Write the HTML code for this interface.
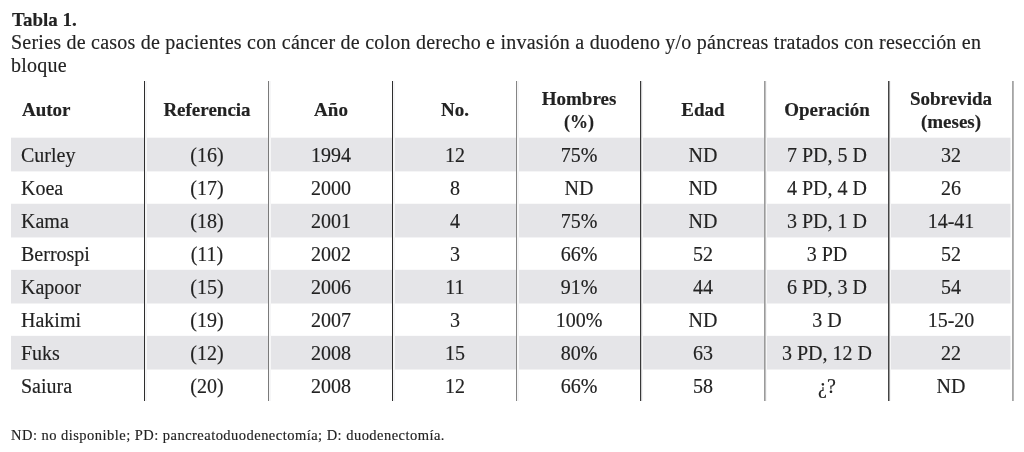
<!DOCTYPE html><html><head><meta charset="utf-8"><style>
html,body{margin:0;padding:0;background:#fff;}
body{width:1024px;height:452px;position:relative;overflow:hidden;font-family:"Liberation Serif",serif;color:#222;}
.t{position:absolute;white-space:nowrap;will-change:transform;-webkit-text-stroke:0.15px #222;}
svg{position:absolute;left:0;top:0;}
</style></head><body>
<svg width="1024" height="452" viewBox="0 0 1024 452">
<rect x="11" y="137.70" width="999.5" height="33.7" fill="#e5e5e8"/>
<rect x="11" y="203.75" width="999.5" height="33.7" fill="#e5e5e8"/>
<rect x="11" y="269.80" width="999.5" height="33.7" fill="#e5e5e8"/>
<rect x="11" y="335.85" width="999.5" height="33.7" fill="#e5e5e8"/>
<rect x="145.00" y="81" width="2" height="320" fill="#f6f6f7"/>
<rect x="269.00" y="81" width="2" height="320" fill="#f6f6f7"/>
<rect x="393.00" y="81" width="2" height="320" fill="#f6f6f7"/>
<rect x="517.00" y="81" width="2" height="320" fill="#f6f6f7"/>
<rect x="641.00" y="81" width="2" height="320" fill="#f6f6f7"/>
<rect x="765.00" y="81" width="2" height="320" fill="#f6f6f7"/>
<rect x="889.00" y="81" width="2" height="320" fill="#f6f6f7"/>
<rect x="144.00" y="81" width="1.0" height="320" fill="#2e2e2e"/>
<rect x="268.00" y="81" width="1.0" height="320" fill="#7a7a7a"/>
<rect x="392.00" y="81" width="1.0" height="320" fill="#2e2e2e"/>
<rect x="516.00" y="81" width="1.0" height="320" fill="#858585"/>
<rect x="640.00" y="81" width="1.2" height="320" fill="#383838"/>
<rect x="764.00" y="81" width="1.6" height="320" fill="#9a9a9a"/>
<rect x="888.00" y="81" width="1.5" height="320" fill="#444"/>
<rect x="1012.00" y="81" width="1.8" height="320" fill="#a5a5a5"/>
</svg>
<div class="t" style="left:11.50px;top:9.73px;width:300px;font-size:19px;line-height:19px;text-align:left;font-weight:bold;">Tabla 1.</div>
<div class="t" style="left:11.00px;top:31.90px;width:300px;font-size:20px;line-height:20px;text-align:left;letter-spacing:0.23px;">Series de casos de pacientes con cáncer de colon derecho e invasión a duodeno y/o páncreas tratados con resección en</div>
<div class="t" style="left:11.00px;top:55.10px;width:300px;font-size:20px;line-height:20px;text-align:left;letter-spacing:0.23px;">bloque</div>
<div class="t" style="left:21.50px;top:100.13px;width:300px;font-size:19px;line-height:19px;text-align:left;font-weight:bold;">Autor</div>
<div class="t" style="left:56.50px;top:100.13px;width:300px;font-size:19px;line-height:19px;text-align:center;font-weight:bold;">Referencia</div>
<div class="t" style="left:180.50px;top:100.13px;width:300px;font-size:19px;line-height:19px;text-align:center;font-weight:bold;">Año</div>
<div class="t" style="left:304.50px;top:100.13px;width:300px;font-size:19px;line-height:19px;text-align:center;font-weight:bold;">No.</div>
<div class="t" style="left:428.50px;top:89.13px;width:300px;font-size:19px;line-height:19px;text-align:center;font-weight:bold;">Hombres</div>
<div class="t" style="left:428.50px;top:113.26px;width:300px;font-size:18px;line-height:18px;text-align:center;font-weight:bold;">(%)</div>
<div class="t" style="left:552.50px;top:100.13px;width:300px;font-size:19px;line-height:19px;text-align:center;font-weight:bold;">Edad</div>
<div class="t" style="left:676.50px;top:100.13px;width:300px;font-size:19px;line-height:19px;text-align:center;font-weight:bold;">Operación</div>
<div class="t" style="left:800.50px;top:89.13px;width:300px;font-size:19px;line-height:19px;text-align:center;font-weight:bold;">Sobrevida</div>
<div class="t" style="left:800.50px;top:112.43px;width:300px;font-size:19px;line-height:19px;text-align:center;font-weight:bold;">(meses)</div>
<div class="t" style="left:21.00px;top:144.90px;width:300px;font-size:20px;line-height:20px;text-align:left;">Curley</div>
<div class="t" style="left:56.50px;top:144.90px;width:300px;font-size:20px;line-height:20px;text-align:center;">(16)</div>
<div class="t" style="left:180.50px;top:144.90px;width:300px;font-size:20px;line-height:20px;text-align:center;">1994</div>
<div class="t" style="left:304.50px;top:144.90px;width:300px;font-size:20px;line-height:20px;text-align:center;">12</div>
<div class="t" style="left:428.50px;top:144.90px;width:300px;font-size:20px;line-height:20px;text-align:center;">75%</div>
<div class="t" style="left:552.50px;top:144.90px;width:300px;font-size:20px;line-height:20px;text-align:center;">ND</div>
<div class="t" style="left:676.50px;top:144.90px;width:300px;font-size:20px;line-height:20px;text-align:center;">7 PD, 5 D</div>
<div class="t" style="left:800.50px;top:144.90px;width:300px;font-size:20px;line-height:20px;text-align:center;">32</div>
<div class="t" style="left:21.00px;top:177.90px;width:300px;font-size:20px;line-height:20px;text-align:left;">Koea</div>
<div class="t" style="left:56.50px;top:177.90px;width:300px;font-size:20px;line-height:20px;text-align:center;">(17)</div>
<div class="t" style="left:180.50px;top:177.90px;width:300px;font-size:20px;line-height:20px;text-align:center;">2000</div>
<div class="t" style="left:304.50px;top:177.90px;width:300px;font-size:20px;line-height:20px;text-align:center;">8</div>
<div class="t" style="left:428.50px;top:177.90px;width:300px;font-size:20px;line-height:20px;text-align:center;">ND</div>
<div class="t" style="left:552.50px;top:177.90px;width:300px;font-size:20px;line-height:20px;text-align:center;">ND</div>
<div class="t" style="left:676.50px;top:177.90px;width:300px;font-size:20px;line-height:20px;text-align:center;">4 PD, 4 D</div>
<div class="t" style="left:800.50px;top:177.90px;width:300px;font-size:20px;line-height:20px;text-align:center;">26</div>
<div class="t" style="left:21.00px;top:210.90px;width:300px;font-size:20px;line-height:20px;text-align:left;">Kama</div>
<div class="t" style="left:56.50px;top:210.90px;width:300px;font-size:20px;line-height:20px;text-align:center;">(18)</div>
<div class="t" style="left:180.50px;top:210.90px;width:300px;font-size:20px;line-height:20px;text-align:center;">2001</div>
<div class="t" style="left:304.50px;top:210.90px;width:300px;font-size:20px;line-height:20px;text-align:center;">4</div>
<div class="t" style="left:428.50px;top:210.90px;width:300px;font-size:20px;line-height:20px;text-align:center;">75%</div>
<div class="t" style="left:552.50px;top:210.90px;width:300px;font-size:20px;line-height:20px;text-align:center;">ND</div>
<div class="t" style="left:676.50px;top:210.90px;width:300px;font-size:20px;line-height:20px;text-align:center;">3 PD, 1 D</div>
<div class="t" style="left:800.50px;top:210.90px;width:300px;font-size:20px;line-height:20px;text-align:center;">14-41</div>
<div class="t" style="left:21.00px;top:243.90px;width:300px;font-size:20px;line-height:20px;text-align:left;">Berrospi</div>
<div class="t" style="left:56.50px;top:243.90px;width:300px;font-size:20px;line-height:20px;text-align:center;">(11)</div>
<div class="t" style="left:180.50px;top:243.90px;width:300px;font-size:20px;line-height:20px;text-align:center;">2002</div>
<div class="t" style="left:304.50px;top:243.90px;width:300px;font-size:20px;line-height:20px;text-align:center;">3</div>
<div class="t" style="left:428.50px;top:243.90px;width:300px;font-size:20px;line-height:20px;text-align:center;">66%</div>
<div class="t" style="left:552.50px;top:243.90px;width:300px;font-size:20px;line-height:20px;text-align:center;">52</div>
<div class="t" style="left:676.50px;top:243.90px;width:300px;font-size:20px;line-height:20px;text-align:center;">3 PD</div>
<div class="t" style="left:800.50px;top:243.90px;width:300px;font-size:20px;line-height:20px;text-align:center;">52</div>
<div class="t" style="left:21.00px;top:276.90px;width:300px;font-size:20px;line-height:20px;text-align:left;">Kapoor</div>
<div class="t" style="left:56.50px;top:276.90px;width:300px;font-size:20px;line-height:20px;text-align:center;">(15)</div>
<div class="t" style="left:180.50px;top:276.90px;width:300px;font-size:20px;line-height:20px;text-align:center;">2006</div>
<div class="t" style="left:304.50px;top:276.90px;width:300px;font-size:20px;line-height:20px;text-align:center;">11</div>
<div class="t" style="left:428.50px;top:276.90px;width:300px;font-size:20px;line-height:20px;text-align:center;">91%</div>
<div class="t" style="left:552.50px;top:276.90px;width:300px;font-size:20px;line-height:20px;text-align:center;">44</div>
<div class="t" style="left:676.50px;top:276.90px;width:300px;font-size:20px;line-height:20px;text-align:center;">6 PD, 3 D</div>
<div class="t" style="left:800.50px;top:276.90px;width:300px;font-size:20px;line-height:20px;text-align:center;">54</div>
<div class="t" style="left:21.00px;top:309.90px;width:300px;font-size:20px;line-height:20px;text-align:left;">Hakimi</div>
<div class="t" style="left:56.50px;top:309.90px;width:300px;font-size:20px;line-height:20px;text-align:center;">(19)</div>
<div class="t" style="left:180.50px;top:309.90px;width:300px;font-size:20px;line-height:20px;text-align:center;">2007</div>
<div class="t" style="left:304.50px;top:309.90px;width:300px;font-size:20px;line-height:20px;text-align:center;">3</div>
<div class="t" style="left:428.50px;top:309.90px;width:300px;font-size:20px;line-height:20px;text-align:center;">100%</div>
<div class="t" style="left:552.50px;top:309.90px;width:300px;font-size:20px;line-height:20px;text-align:center;">ND</div>
<div class="t" style="left:676.50px;top:309.90px;width:300px;font-size:20px;line-height:20px;text-align:center;">3 D</div>
<div class="t" style="left:800.50px;top:309.90px;width:300px;font-size:20px;line-height:20px;text-align:center;">15-20</div>
<div class="t" style="left:21.00px;top:342.90px;width:300px;font-size:20px;line-height:20px;text-align:left;">Fuks</div>
<div class="t" style="left:56.50px;top:342.90px;width:300px;font-size:20px;line-height:20px;text-align:center;">(12)</div>
<div class="t" style="left:180.50px;top:342.90px;width:300px;font-size:20px;line-height:20px;text-align:center;">2008</div>
<div class="t" style="left:304.50px;top:342.90px;width:300px;font-size:20px;line-height:20px;text-align:center;">15</div>
<div class="t" style="left:428.50px;top:342.90px;width:300px;font-size:20px;line-height:20px;text-align:center;">80%</div>
<div class="t" style="left:552.50px;top:342.90px;width:300px;font-size:20px;line-height:20px;text-align:center;">63</div>
<div class="t" style="left:676.50px;top:342.90px;width:300px;font-size:20px;line-height:20px;text-align:center;">3 PD, 12 D</div>
<div class="t" style="left:800.50px;top:342.90px;width:300px;font-size:20px;line-height:20px;text-align:center;">22</div>
<div class="t" style="left:21.00px;top:375.90px;width:300px;font-size:20px;line-height:20px;text-align:left;">Saiura</div>
<div class="t" style="left:56.50px;top:375.90px;width:300px;font-size:20px;line-height:20px;text-align:center;">(20)</div>
<div class="t" style="left:180.50px;top:375.90px;width:300px;font-size:20px;line-height:20px;text-align:center;">2008</div>
<div class="t" style="left:304.50px;top:375.90px;width:300px;font-size:20px;line-height:20px;text-align:center;">12</div>
<div class="t" style="left:428.50px;top:375.90px;width:300px;font-size:20px;line-height:20px;text-align:center;">66%</div>
<div class="t" style="left:552.50px;top:375.90px;width:300px;font-size:20px;line-height:20px;text-align:center;">58</div>
<div class="t" style="left:676.50px;top:375.90px;width:300px;font-size:20px;line-height:20px;text-align:center;">¿?</div>
<div class="t" style="left:800.50px;top:375.90px;width:300px;font-size:20px;line-height:20px;text-align:center;">ND</div>
<div class="t" style="left:11.00px;top:427.76px;width:300px;font-size:14.5px;line-height:14.5px;text-align:left;letter-spacing:0.47px;">ND: no disponible; PD: pancreatoduodenectomía; D: duodenectomía.</div>
</body></html>
